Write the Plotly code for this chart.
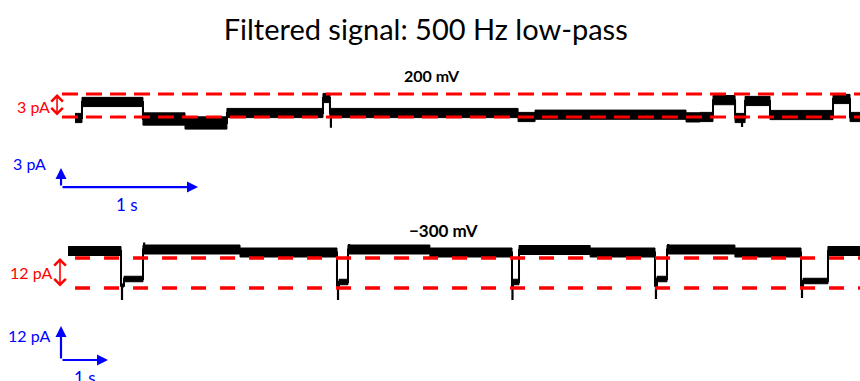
import plotly.graph_objects as go

# ---------------- data ----------------
# Top trace (+200 mV): segment boundaries (s) and levels (pA)
top_edges = [0, 0.051, 0.496, 0.803, 1.109, 1.810, 1.861, 3.234, 3.358, 4.460, 4.562,
             4.657, 4.818, 4.891, 5.073, 5.533, 5.657, 5.730]
top_levels = [-0.13, 1.96, -0.26, -0.78, 0.52, 2.48, 0.52, 0.0, 0.30, -0.05, 0.0,
              2.2, -0.13, 2.09, 0.26, 2.35, 0.0]
top_noise = [0.6, 0.6, 0.8, 0.8, 0.6, 0.6, 0.6, 0.6, 0.6, 0.6, 0.6,
             0.6, 0.6, 0.6, 0.6, 0.6, 0.6]
top_spike_t = [1.868, 4.869]
top_spike_i = [-1.4, -1.3]

# Bottom trace (-300 mV)
bot_edges = [0, 1.128, 1.191, 1.596, 3.66, 5.723, 5.766, 5.957, 7.70, 9.447, 9.468,
             9.596, 11.11, 12.489, 12.532, 12.745, 14.19, 15.596, 15.638, 16.170, 16.851]
bot_levels = [14.8, 1.0, 3.6, 15.4, 14.2, 1.0, 2.4, 15.4, 14.2, 1.0, 2.4,
              15.2, 14.2, 1.0, 3.6, 15.4, 14.2, 1.0, 2.8, 14.8]
bot_noise = [1.8, 0.6, 1.1, 1.8, 1.8, 0.6, 1.1, 1.8, 1.8, 0.6, 1.1,
             1.8, 1.8, 0.6, 1.1, 1.8, 1.8, 0.6, 1.1, 1.8]
bot_spike_t = [1.149, 5.745, 9.457, 12.51, 15.617]
bot_spike_i = [-4.8, -4.8, -4.8, -4.4, -4.0]
bot_over_t = [1.62, 5.98, 9.62, 12.77, 16.19]
bot_over_i = [18.2, 17.6, 17.2, 17.6, 16.8]

top_open = [0, 3]      # dashed reference levels (pA)
bot_open = [0, 12]

# ---------------- figure ----------------
fig = go.Figure()

def add_trace_band(edges, levels, noise, xa, ya):
    if not isinstance(noise, list):
        noise = [noise] * len(levels)
    up = [l + n for l, n in zip(levels, noise)] + [levels[-1] + noise[-1]]
    lo = [l - n for l, n in zip(levels, noise)] + [levels[-1] - noise[-1]]
    fig.add_trace(go.Scatter(x=edges, y=up, mode="lines", line=dict(color="black", width=1, shape="hv"),
                             xaxis=xa, yaxis=ya, hoverinfo="skip", showlegend=False))
    fig.add_trace(go.Scatter(x=edges, y=lo, mode="lines", line=dict(color="black", width=1, shape="hv"),
                             fill="tonexty", fillcolor="black",
                             xaxis=xa, yaxis=ya, hoverinfo="skip", showlegend=False))
    fig.add_trace(go.Scatter(x=edges, y=levels + [levels[-1]], mode="lines",
                             line=dict(color="black", width=2, shape="hv"),
                             xaxis=xa, yaxis=ya, hoverinfo="skip", showlegend=False))

def add_spikes(ts, peaks, edges, levels, xa, ya):
    xs, ys = [], []
    for t, p in zip(ts, peaks):
        lvl = levels[-1]
        for i in range(len(levels)):
            if edges[i] <= t < edges[i + 1]:
                lvl = levels[i]
                break
        xs += [t, t, None]
        ys += [lvl, p, None]
    fig.add_trace(go.Scatter(x=xs, y=ys, mode="lines", line=dict(color="black", width=2.2),
                             xaxis=xa, yaxis=ya, hoverinfo="skip", showlegend=False))

add_trace_band(top_edges, top_levels, top_noise, "x", "y")
add_spikes(top_spike_t, top_spike_i, top_edges, top_levels, "x", "y")
add_trace_band(bot_edges, bot_levels, bot_noise, "x2", "y2")
add_spikes(bot_spike_t, bot_spike_i, bot_edges, bot_levels, "x2", "y2")
add_spikes(bot_over_t, bot_over_i, bot_edges, bot_levels, "x2", "y2")

# dashed reference lines
for lv in top_open:
    fig.add_shape(type="line", xref="x", yref="y", x0=-0.095, x1=5.73, y0=lv, y1=lv,
                  line=dict(color="#ff0000", width=3, dash="16px,8px"))
for lv in bot_open:
    fig.add_shape(type="line", xref="x2", yref="y2", x0=0.15, x1=16.851, y0=lv, y1=lv,
                  line=dict(color="#ff0000", width=3.5, dash="15px,14px"))

red = "#ff0000"
blue = "#0000ff"
fnt = "Lato, sans-serif"
ann = []
# panel labels
ann.append(dict(x=2.606, y=5.35, xref="x", yref="y", text="<b>200 mV</b>", showarrow=False,
                font=dict(size=16, color="black", family=fnt)))
ann.append(dict(x=7.98, y=23.2, xref="x2", yref="y2", text="<b>\u2212300 mV</b>", showarrow=False,
                font=dict(size=17, color="black", family=fnt)))
# red amplitude markers
ann.append(dict(x=-0.305, y=1.43, xref="x", yref="y", text="3 pA", showarrow=False,
                font=dict(size=16, color=red, family=fnt)))
ann.append(dict(x=-0.131, y=top_open[1], ax=-0.131, ay=top_open[0], xref="x", yref="y",
                axref="x", ayref="y", text="", showarrow=True, arrowhead=4, arrowside="end+start",
                arrowsize=1.4, arrowwidth=1.6, arrowcolor=red))
ann.append(dict(x=-0.78, y=6.4, xref="x2", yref="y2", text="12 pA", showarrow=False,
                font=dict(size=16, color=red, family=fnt)))
ann.append(dict(x=-0.170, y=bot_open[1], ax=-0.170, ay=bot_open[0], xref="x2", yref="y2",
                axref="x2", ayref="y2", text="", showarrow=True, arrowhead=4, arrowside="end+start",
                arrowsize=1.4, arrowwidth=1.6, arrowcolor=red))
# scale bars top
ann.append(dict(x=-0.102, y=-6.65, ax=-0.102, ay=-9.13, xref="x", yref="y", axref="x", ayref="y",
                text="", showarrow=True, arrowhead=2, arrowsize=1, arrowwidth=2.2, arrowcolor=blue))
ann.append(dict(x=0.898, y=-9.13, ax=-0.102, ay=-9.13, xref="x", yref="y", axref="x", ayref="y",
                text="", showarrow=True, arrowhead=2, arrowsize=1, arrowwidth=2.2, arrowcolor=blue))
ann.append(dict(x=-0.33, y=-6.0, xref="x", yref="y", text="3 pA", showarrow=False,
                font=dict(size=16, color=blue, family=fnt)))
ann.append(dict(x=0.38, y=-11.4, xref="x", yref="y", text="1 s", showarrow=False,
                font=dict(size=17, color=blue, family=fnt)))
# scale bars bottom
ann.append(dict(x=-0.149, y=-15.2, ax=-0.149, ay=-28.8, xref="x2", yref="y2", axref="x2", ayref="y2",
                text="", showarrow=True, arrowhead=2, arrowsize=1, arrowwidth=2.2, arrowcolor=blue))
ann.append(dict(x=0.851, y=-28.8, ax=-0.149, ay=-28.8, xref="x2", yref="y2", axref="x2", ayref="y2",
                text="", showarrow=True, arrowhead=2, arrowsize=1, arrowwidth=2.2, arrowcolor=blue))
ann.append(dict(x=-0.83, y=-18.8, xref="x2", yref="y2", text="12 pA", showarrow=False,
                font=dict(size=16, color=blue, family=fnt)))
ann.append(dict(x=0.36, y=-35.6, xref="x2", yref="y2", text="1 s", showarrow=False,
                font=dict(size=17, color=blue, family=fnt)))

H = 381.0
fig.update_layout(
    width=860, height=381, margin=dict(l=0, r=0, t=0, b=0),
    paper_bgcolor="white", plot_bgcolor="white",
    title=dict(text="Filtered signal: 500 Hz low-pass", x=0.495, xanchor="center",
               y=1 - 30 / H, yanchor="middle", font=dict(size=29, color="black", family="Lato, sans-serif")),
    xaxis=dict(domain=[0, 1], range=[-75 / 137, 785 / 137], visible=False, fixedrange=True),
    yaxis=dict(domain=[1 - 210 / H, 1 - 55 / H], range=[(117 - 210) / 7.67, (117 - 55) / 7.67],
               visible=False, fixedrange=True),
    xaxis2=dict(domain=[0, 1], range=[-68 / 47, 792 / 47], visible=False, fixedrange=True, anchor="y2"),
    yaxis2=dict(domain=[0, 1 - 215 / H], range=[(288 - 381) / 2.5, (288 - 215) / 2.5],
                visible=False, fixedrange=True, anchor="x2"),
    annotations=ann,
    showlegend=False,
)

fig.write_html("out.html")
